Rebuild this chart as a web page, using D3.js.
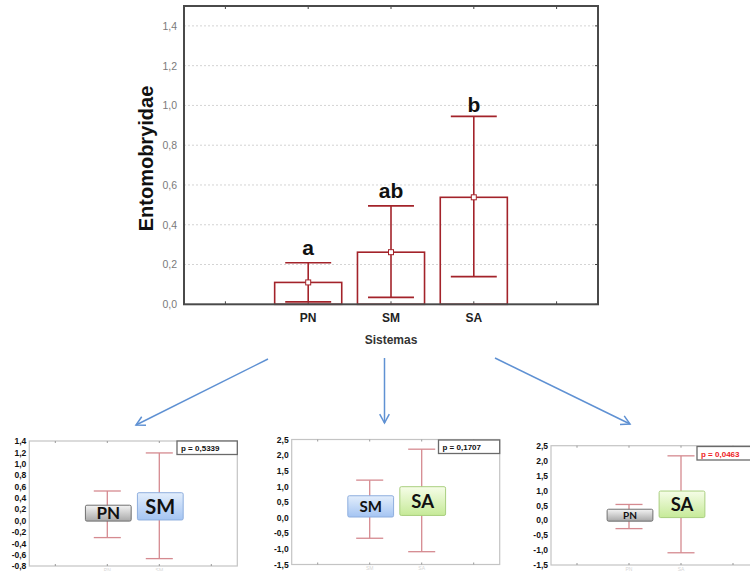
<!DOCTYPE html>
<html><head><meta charset="utf-8">
<script src="https://cdn.jsdelivr.net/npm/d3@7"></script>
<style>html,body{margin:0;padding:0;background:#fff;}svg{display:block;}</style>
</head><body>
<svg id="c" width="750" height="571"></svg>
<script>
// ---------- Main chart data ----------
const categories = ["PN", "SM", "SA"];
const means = [0.11, 0.262, 0.538];
const ciLow = [0.012, 0.035, 0.139];
const ciHigh = [0.209, 0.495, 0.945];
const letters = ["a", "ab", "b"];
const mainTicks = [0, 0.2, 0.4, 0.6, 0.8, 1.0, 1.2, 1.4];

// ---------- Comparison panels data ----------
const p1Cats = ["PN", "SM"];
const p1Low = [-0.30, -0.67];
const p1High = [0.52, 1.19];
const p1BoxLow = [-0.01, 0.01];
const p1BoxHigh = [0.27, 0.49];
const p1Ticks = [1.4, 1.2, 1.0, 0.8, 0.6, 0.4, 0.2, 0.0, -0.2, -0.4, -0.6, -0.8];
const p1Text = "p = 0,5339";

const p2Cats = ["SM", "SA"];
const p2Low = [-0.66, -1.09];
const p2High = [1.2, 2.19];
const p2BoxLow = [0.02, 0.07];
const p2BoxHigh = [0.7, 0.99];
const p2Ticks = [2.5, 2.0, 1.5, 1.0, 0.5, 0.0, -0.5, -1.0, -1.5];
const p2Text = "p = 0,1707";

const p3Cats = ["PN", "SA"];
const p3Low = [-0.28, -1.09];
const p3High = [0.53, 2.16];
const p3BoxLow = [-0.03, 0.09];
const p3BoxHigh = [0.37, 0.98];
const p3Ticks = [2.5, 2.0, 1.5, 1.0, 0.5, 0.0, -0.5, -1.0, -1.5];
const p3Text = "p = 0,0463";

const svg = d3.select("#c");
const loc = d3.formatLocale({decimal: ",", thousands: ".", grouping: [3], currency: ["", ""], minus: "-"});
const fmt = loc.format(".1f");

// gradients
const defs = svg.append("defs");
function grad(id, c0, c1) {
  const g = defs.append("linearGradient").attr("id", id).attr("x1", 0).attr("y1", 0).attr("x2", 0).attr("y2", 1);
  g.append("stop").attr("offset", "0%").attr("stop-color", c0);
  g.append("stop").attr("offset", "100%").attr("stop-color", c1);
}
grad("gPN", "#f4f4f4", "#a8a8a8");
grad("gSM", "#e3eefc", "#a4c4f2");
grad("gSA", "#f6fde8", "#c6ea98");
const boxStyle = {
  PN: {fill: "url(#gPN)", stroke: "#6f6f6f"},
  SM: {fill: "url(#gSM)", stroke: "#8eaede"},
  SA: {fill: "url(#gSA)", stroke: "#a9cf7f"}
};

// ---------- Main chart ----------
const M = {l: 184, r: 598, t: 6, b: 304.3};
const slots = ["_l", ...categories, "_r"];
const x = d3.scaleBand().domain(slots).range([M.l, M.r]).padding(0);
const y = d3.scaleLinear().domain([0, 1.5]).range([M.b, M.t]);
const red = "#a3232a";
const main = svg.append("g");

// grid
main.append("g").selectAll("line").data(mainTicks.filter(d => d > 0)).join("line")
  .attr("x1", M.l).attr("x2", M.r).attr("y1", d => y(d)).attr("y2", d => y(d))
  .attr("stroke", "#c8c8c8").attr("stroke-width", 0.8).attr("stroke-dasharray", "2,2");

// left axis labels
const yAxis = d3.axisLeft(y).tickValues(mainTicks).tickFormat(fmt).tickSize(0).tickPadding(7);
const ya = main.append("g").attr("transform", `translate(${M.l},0)`).call(yAxis);
ya.select(".domain").remove();
ya.selectAll("text").attr("font-family", "Liberation Sans, Arial").attr("font-size", 10.5).attr("fill", "#7a7a7a");

// right ticks
main.append("g").selectAll("line").data(mainTicks).join("line")
  .attr("x1", M.r - 3).attr("x2", M.r).attr("y1", d => y(d)).attr("y2", d => y(d))
  .attr("stroke", "#444").attr("stroke-width", 1);
// top / bottom ticks
slots.forEach(s => {
  const cx = x(s) + x.bandwidth() / 2;
  main.append("line").attr("x1", cx).attr("x2", cx).attr("y1", M.t).attr("y2", M.t + 3).attr("stroke", "#444");
  main.append("line").attr("x1", cx).attr("x2", cx).attr("y1", M.b).attr("y2", M.b - 3).attr("stroke", "#444");
});

// bars
const bw = x.bandwidth() * 0.81;
const capW = x.bandwidth() * 0.555;
const cx = c => x(c) + x.bandwidth() / 2;
main.append("g").selectAll("rect").data(categories).join("rect")
  .attr("x", c => cx(c) - bw / 2).attr("width", bw)
  .attr("y", (c, i) => y(means[i])).attr("height", (c, i) => y(0) - y(means[i]))
  .attr("fill", "none").attr("stroke", red).attr("stroke-width", 1.6);
// whiskers
const wg = main.append("g").attr("stroke", red).attr("stroke-width", 1.6);
categories.forEach((c, i) => {
  wg.append("line").attr("x1", cx(c)).attr("x2", cx(c)).attr("y1", y(ciLow[i])).attr("y2", y(ciHigh[i]));
  wg.append("line").attr("x1", cx(c) - capW / 2).attr("x2", cx(c) + capW / 2).attr("y1", y(ciLow[i])).attr("y2", y(ciLow[i]));
  wg.append("line").attr("x1", cx(c) - capW / 2).attr("x2", cx(c) + capW / 2).attr("y1", y(ciHigh[i])).attr("y2", y(ciHigh[i]));
});
// mean markers
main.append("g").selectAll("rect").data(categories).join("rect")
  .attr("x", c => cx(c) - 2.5).attr("y", (c, i) => y(means[i]) - 2.5).attr("width", 5).attr("height", 5)
  .attr("fill", "#fff").attr("stroke", red).attr("stroke-width", 1);
// letters
main.append("g").selectAll("text").data(categories).join("text")
  .attr("x", c => cx(c)).attr("y", (c, i) => y(ciHigh[i]) - (letters[i] === "b" ? 4 : 8))
  .attr("text-anchor", "middle").attr("font-family", "Liberation Sans, Arial").attr("font-weight", "bold")
  .attr("font-size", 21).attr("fill", "#111").text((c, i) => letters[i]);

// frame
main.append("rect").attr("x", M.l).attr("y", M.t).attr("width", M.r - M.l).attr("height", M.b - M.t)
  .attr("fill", "none").attr("stroke", "#4a4a4a").attr("stroke-width", 2);

// x labels
main.append("g").selectAll("text").data(categories).join("text")
  .attr("x", c => cx(c)).attr("y", 321.5).attr("text-anchor", "middle")
  .attr("font-family", "Liberation Sans, Arial").attr("font-weight", "bold").attr("font-size", 12).attr("fill", "#222")
  .text(c => c);
main.append("text").attr("x", 391).attr("y", 344).attr("text-anchor", "middle")
  .attr("font-family", "Liberation Sans, Arial").attr("font-weight", "bold").attr("font-size", 12).attr("fill", "#333")
  .text("Sistemas");
main.append("text").attr("transform", "translate(153,158.5) rotate(-90)").attr("text-anchor", "middle")
  .attr("font-family", "Liberation Sans, Arial").attr("font-weight", "bold").attr("font-size", 20).attr("fill", "#111")
  .text("Entomobryidae");

// ---------- Arrows ----------
const arrowColor = "#5f91d3";
function arrow(x1, y1, x2, y2) {
  const g = svg.append("g").attr("stroke", arrowColor).attr("stroke-width", 1.5).attr("fill", "none");
  g.append("line").attr("x1", x1).attr("y1", y1).attr("x2", x2).attr("y2", y2);
  const a = Math.atan2(y2 - y1, x2 - x1), L = 10, s = 0.5;
  const p = [[x2 - L * Math.cos(a - s), y2 - L * Math.sin(a - s)], [x2, y2], [x2 - L * Math.cos(a + s), y2 - L * Math.sin(a + s)]];
  g.append("path").attr("d", d3.line()(p));
}
arrow(268, 359, 136, 425);
arrow(384.5, 358, 384.5, 423);
arrow(495, 358, 630, 424);

// ---------- Comparison panels ----------
function panel(cfg) {
  const g = svg.append("g");
  const xs = d3.scaleBand().domain(["_l", ...cfg.cats, "_r"]).range([cfg.l, cfg.l + 208]).padding(0);
  const ys = d3.scaleLinear().domain([cfg.ticks[cfg.ticks.length - 1], cfg.ticks[0]]).range([cfg.b, cfg.t]);
  const c = k => xs(k) + xs.bandwidth() / 2;
  // frame
  g.append("rect").attr("x", cfg.l).attr("y", cfg.t).attr("width", 208).attr("height", cfg.b - cfg.t)
    .attr("fill", "#fff").attr("stroke", "#c4c4c4").attr("stroke-width", 1.2);
  // tick marks
  xs.domain().forEach(k => {
    g.append("line").attr("x1", c(k)).attr("x2", c(k)).attr("y1", cfg.t).attr("y2", cfg.t + 2).attr("stroke", "#999");
    g.append("line").attr("x1", c(k)).attr("x2", c(k)).attr("y1", cfg.b).attr("y2", cfg.b - 2).attr("stroke", "#999");
  });
  // y labels
  const ax = g.append("g").attr("transform", `translate(${cfg.l},0)`)
    .call(d3.axisLeft(ys).tickValues(cfg.ticks).tickFormat(fmt).tickSize(0).tickPadding(3));
  ax.select(".domain").remove();
  ax.selectAll("text").attr("font-family", "Liberation Sans, Arial").attr("font-weight", "bold")
    .attr("font-size", 8.5).attr("fill", "#111");
  // faint category labels
  g.append("g").selectAll("text").data(cfg.cats).join("text")
    .attr("x", k => c(k)).attr("y", cfg.b + 5.5).attr("text-anchor", "middle")
    .attr("font-family", "Liberation Sans, Arial").attr("font-size", 5).attr("fill", "#d6d6d6").text(k => k);
  // whiskers
  const cw = xs.bandwidth() * 0.52;
  const wg = g.append("g").attr("stroke", "#d58a90").attr("stroke-width", 1.3);
  cfg.cats.forEach((k, i) => {
    wg.append("line").attr("x1", c(k)).attr("x2", c(k)).attr("y1", ys(cfg.lo[i])).attr("y2", ys(cfg.hi[i]));
    wg.append("line").attr("x1", c(k) - cw / 2).attr("x2", c(k) + cw / 2).attr("y1", ys(cfg.lo[i])).attr("y2", ys(cfg.lo[i]));
    wg.append("line").attr("x1", c(k) - cw / 2).attr("x2", c(k) + cw / 2).attr("y1", ys(cfg.hi[i])).attr("y2", ys(cfg.hi[i]));
  });
  // boxes
  const bwid = xs.bandwidth() * 0.88;
  cfg.cats.forEach((k, i) => {
    const st = boxStyle[k];
    const yt = ys(cfg.boxHi[i]), yb = ys(cfg.boxLo[i]);
    g.append("rect").attr("x", c(k) - bwid / 2 + 1).attr("y", yt).attr("width", bwid).attr("height", yb - yt)
      .attr("rx", 1.5).attr("fill", st.fill).attr("stroke", st.stroke).attr("stroke-width", 1);
    g.append("text").attr("x", c(k) + 1).attr("y", (yt + yb) / 2).attr("dy", "0.36em").attr("text-anchor", "middle")
      .attr("font-family", "Lato, 'Open Sans', sans-serif").attr("font-weight", "bold")
      .attr("font-size", cfg.sizes[i]).attr("fill", "#111").text(k);
  });
  // p box
  g.append("rect").attr("x", cfg.px).attr("y", cfg.py).attr("width", cfg.pw).attr("height", 13.5)
    .attr("fill", "#fff").attr("stroke", "#6a6a6a").attr("stroke-width", 1.3);
  g.append("text").attr("x", cfg.px + 4).attr("y", cfg.py + 10).attr("font-family", "Liberation Sans, Arial")
    .attr("font-weight", "bold").attr("font-size", 8).attr("fill", cfg.pColor).text(cfg.pText);
}

panel({l: 29.3, t: 441, b: 566, cats: p1Cats, lo: p1Low, hi: p1High, boxLo: p1BoxLow, boxHi: p1BoxHigh,
  ticks: p1Ticks, sizes: [17, 20], px: 177, py: 441, pw: 60.3, pText: p1Text, pColor: "#111"});
panel({l: 291.7, t: 439.5, b: 564.5, cats: p2Cats, lo: p2Low, hi: p2High, boxLo: p2BoxLow, boxHi: p2BoxHigh,
  ticks: p2Ticks, sizes: [15, 18.5], px: 438.5, py: 440, pw: 61.2, pText: p2Text, pColor: "#111"});
panel({l: 551, t: 445.7, b: 565, cats: p3Cats, lo: p3Low, hi: p3High, boxLo: p3BoxLow, boxHi: p3BoxHigh,
  ticks: p3Ticks, sizes: [10, 18.5], px: 697, py: 446.5, pw: 60, pText: p3Text, pColor: "#ee1c24"});
</script>
</body></html>
